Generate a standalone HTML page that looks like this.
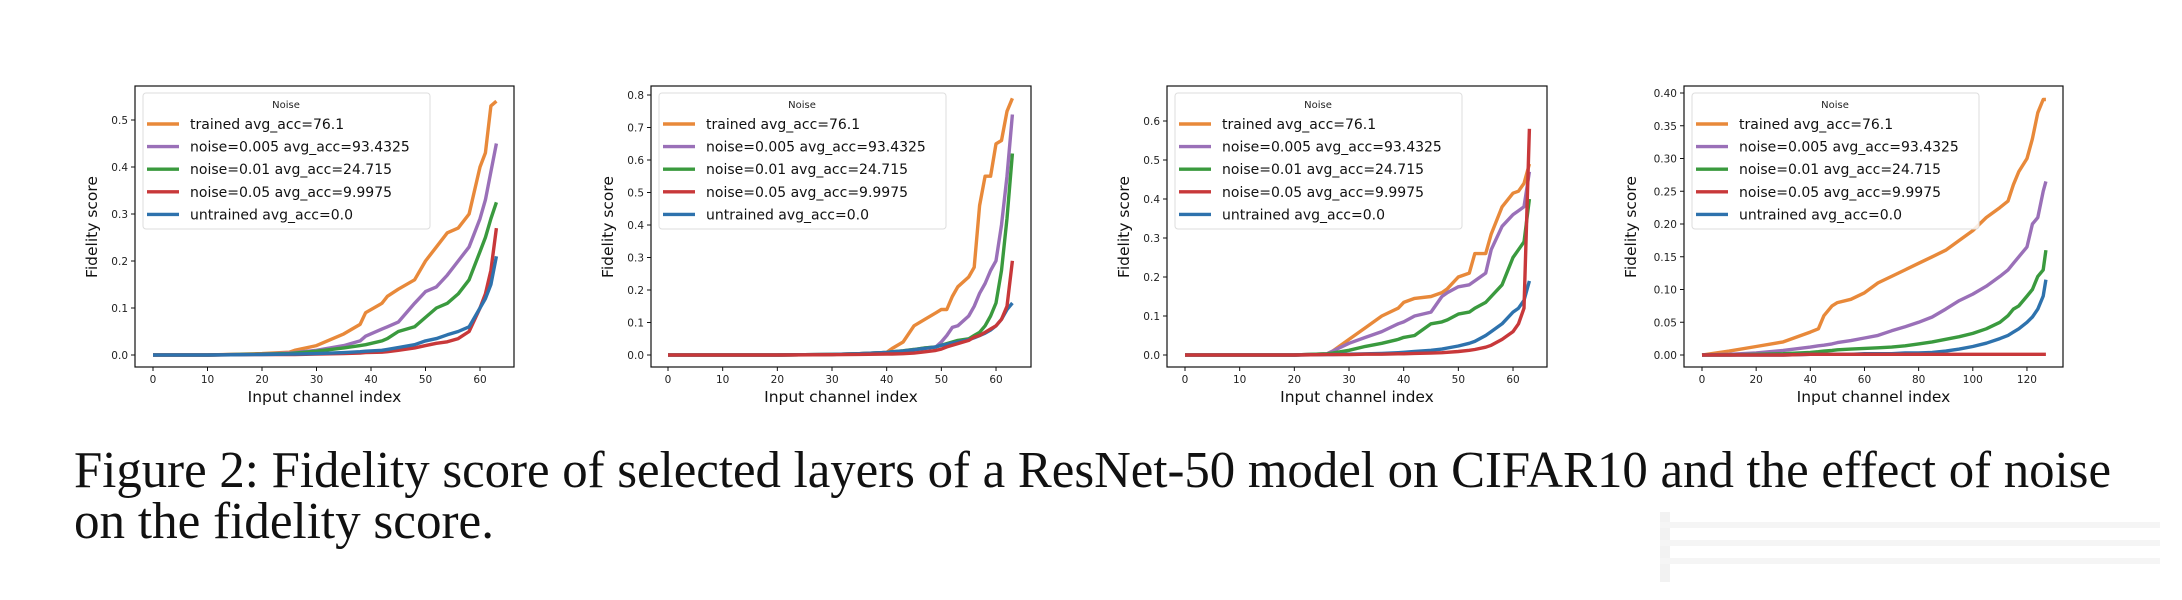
<!DOCTYPE html>
<html><head><meta charset="utf-8">
<style>
html,body{margin:0;padding:0;background:#fff;}
svg{display:block;}
text{font-family:"DejaVu Sans","Liberation Sans",sans-serif;}
</style></head>
<body>
<svg id="fig" width="2182" height="600" viewBox="0 0 2182 600" xmlns="http://www.w3.org/2000/svg">
<text x="74" y="487" style="font-family:'Liberation Serif',serif" font-size="52" fill="#111" textLength="2037" lengthAdjust="spacingAndGlyphs">Figure 2: Fidelity score of selected layers of a ResNet-50 model on CIFAR10 and the effect of noise</text>
<text x="74" y="538" style="font-family:'Liberation Serif',serif" font-size="52" fill="#111" textLength="420" lengthAdjust="spacingAndGlyphs">on the fidelity score.</text>
<g opacity="0.18">
<rect x="1660" y="512" width="10" height="70" fill="#bbb"/>
<rect x="1660" y="522" width="500" height="6" fill="#ccc"/>
<rect x="1660" y="540" width="500" height="6" fill="#ccc"/>
<rect x="1660" y="558" width="500" height="6" fill="#ccc"/>
</g>
</svg>
<script>
// Panel 1 data
const p1Channels=[0,10,20,25,26,30,35,38,39,42,43,45,48,50,52,54,56,58,60,61,62,63];
const p1Trained=[0,0,0.003,0.006,0.01,0.02,0.045,0.065,0.09,0.11,0.125,0.14,0.16,0.2,0.23,0.26,0.27,0.3,0.4,0.43,0.53,0.54];
const p1Noise005=[0,0,0.002,0.004,0.005,0.01,0.02,0.03,0.04,0.055,0.06,0.07,0.11,0.135,0.145,0.17,0.2,0.23,0.29,0.33,0.39,0.45];
const p1Noise01=[0,0,0.002,0.003,0.004,0.008,0.015,0.02,0.022,0.03,0.035,0.05,0.06,0.08,0.1,0.11,0.13,0.16,0.22,0.25,0.29,0.325];
const p1Noise05=[0,0,0.001,0.001,0.001,0.002,0.003,0.004,0.005,0.006,0.007,0.01,0.015,0.02,0.025,0.028,0.035,0.05,0.1,0.13,0.18,0.27];
const p1Untrained=[0,0,0.001,0.002,0.002,0.003,0.005,0.007,0.008,0.01,0.012,0.016,0.022,0.03,0.035,0.043,0.05,0.06,0.1,0.12,0.15,0.21];
// Panel 2 data
const p2Channels=[0,10,20,30,35,40,41,43,45,47,49,50,51,52,53,55,56,57,58,59,60,61,62,63];
const p2Trained=[0,0,0,0.002,0.004,0.008,0.02,0.04,0.09,0.11,0.13,0.14,0.14,0.18,0.21,0.24,0.27,0.46,0.55,0.55,0.65,0.66,0.75,0.79];
const p2Noise005=[0,0,0,0.002,0.004,0.008,0.01,0.013,0.017,0.022,0.025,0.04,0.06,0.085,0.09,0.12,0.15,0.19,0.22,0.26,0.29,0.4,0.55,0.74];
const p2Noise01=[0,0,0,0.002,0.004,0.008,0.01,0.013,0.017,0.022,0.025,0.03,0.035,0.04,0.045,0.05,0.06,0.07,0.09,0.12,0.16,0.26,0.42,0.62];
const p2Noise05=[0,0,0,0.001,0.002,0.003,0.003,0.004,0.006,0.01,0.014,0.018,0.025,0.03,0.035,0.045,0.055,0.06,0.07,0.08,0.09,0.11,0.15,0.29];
const p2Untrained=[0,0,0,0.002,0.004,0.008,0.01,0.012,0.016,0.02,0.025,0.03,0.033,0.037,0.04,0.047,0.053,0.06,0.067,0.077,0.09,0.11,0.14,0.16];
// Panel 3 data
const p3Channels=[0,10,20,26,27,30,33,36,39,40,42,45,47,48,50,52,53,55,56,58,60,61,62,63];
const p3Trained=[0,0,0,0.003,0.01,0.04,0.07,0.1,0.12,0.135,0.145,0.15,0.16,0.17,0.2,0.21,0.26,0.26,0.31,0.38,0.415,0.42,0.44,0.49];
const p3Noise005=[0,0,0,0.003,0.01,0.03,0.045,0.06,0.08,0.085,0.1,0.11,0.15,0.16,0.175,0.18,0.19,0.21,0.27,0.33,0.36,0.37,0.38,0.47];
const p3Noise01=[0,0,0,0.003,0.005,0.012,0.022,0.03,0.04,0.045,0.05,0.08,0.085,0.09,0.105,0.11,0.12,0.135,0.15,0.18,0.25,0.27,0.29,0.4];
const p3Noise05=[0,0,0,0.001,0.001,0.001,0.002,0.002,0.003,0.003,0.004,0.005,0.006,0.007,0.009,0.012,0.014,0.02,0.025,0.04,0.06,0.08,0.12,0.58];
const p3Untrained=[0,0,0,0.001,0.001,0.002,0.003,0.004,0.006,0.007,0.009,0.012,0.015,0.018,0.023,0.03,0.035,0.05,0.06,0.08,0.11,0.12,0.14,0.19];
// Panel 4 data
const p4Channels=[0,10,20,30,40,43,45,48,50,55,60,65,70,75,80,85,90,95,100,105,110,113,115,117,120,122,124,126,127];
const p4Trained=[0,0.006,0.013,0.02,0.035,0.04,0.06,0.075,0.08,0.085,0.095,0.11,0.12,0.13,0.14,0.15,0.16,0.175,0.19,0.21,0.225,0.235,0.26,0.28,0.3,0.33,0.37,0.39,0.39];
const p4Noise005=[0,0.001,0.003,0.007,0.012,0.014,0.015,0.017,0.019,0.022,0.026,0.03,0.037,0.043,0.05,0.058,0.07,0.083,0.093,0.105,0.12,0.13,0.14,0.15,0.165,0.2,0.21,0.25,0.265];
const p4Noise01=[0,0,0.001,0.002,0.004,0.005,0.006,0.007,0.008,0.009,0.01,0.011,0.012,0.014,0.017,0.02,0.024,0.028,0.033,0.04,0.05,0.06,0.07,0.075,0.09,0.1,0.12,0.13,0.16];
const p4Noise05=[0,0,0,0,0.001,0.001,0.001,0.001,0.001,0.001,0.001,0.001,0.001,0.001,0.001,0.001,0.001,0.001,0.001,0.001,0.001,0.001,0.001,0.001,0.001,0.001,0.001,0.001,0.001];
const p4Untrained=[0,0,0,0,0.001,0.001,0.001,0.001,0.001,0.001,0.002,0.002,0.002,0.003,0.003,0.004,0.006,0.009,0.013,0.018,0.025,0.03,0.035,0.04,0.05,0.058,0.07,0.09,0.115];

const seriesLabels=["trained avg_acc=76.1","noise=0.005 avg_acc=93.4325","noise=0.01 avg_acc=24.715","noise=0.05 avg_acc=9.9975","untrained avg_acc=0.0"];
const seriesColors=["#e8893a","#9a70b8","#3a9a3e","#c8383a","#2e72ad"];
const p1YTicks=[0,0.1,0.2,0.3,0.4,0.5];
const p2YTicks=[0,0.1,0.2,0.3,0.4,0.5,0.6,0.7,0.8];
const p3YTicks=[0,0.1,0.2,0.3,0.4,0.5,0.6];
const p4YTicks=[0,0.05,0.1,0.15,0.2,0.25,0.3,0.35,0.4];
const p1XTicks=[0,10,20,30,40,50,60];
const p4XTicks=[0,20,40,60,80,100,120];

const NS="http://www.w3.org/2000/svg";
const fig=document.getElementById('fig');
function mk(tag,attrs,parent){const e=document.createElementNS(NS,tag);for(const k in attrs)e.setAttribute(k,attrs[k]);parent.appendChild(e);return e;}

const panels=[
 {left:135,right:514,x0:153,xs:5.45,ys:470,yt:p1YTicks,xt:p1XTicks,dec:1,x:p1Channels,s:[p1Trained,p1Noise005,p1Noise01,p1Noise05,p1Untrained],order:[0,1,2,3,4]},
 {left:651,right:1031,x0:668,xs:5.467,ys:325,yt:p2YTicks,xt:p1XTicks,dec:1,x:p2Channels,s:[p2Trained,p2Noise005,p2Noise01,p2Noise05,p2Untrained],order:[0,1,2,4,3]},
 {left:1167,right:1547,x0:1185,xs:5.467,ys:390,yt:p3YTicks,xt:p1XTicks,dec:1,x:p3Channels,s:[p3Trained,p3Noise005,p3Noise01,p3Noise05,p3Untrained],order:[0,1,2,4,3]},
 {left:1684,right:2063,x0:1702,xs:2.708,ys:655,yt:p4YTicks,xt:p4XTicks,dec:2,x:p4Channels,s:[p4Trained,p4Noise005,p4Noise01,p4Noise05,p4Untrained],order:[0,1,2,4,3]}
];
const TOP=86,BOT=367,Y0=355;
panels.forEach((p,pi)=>{
  const g=mk('g',{},fig);
  
  
  const X=v=>p.x0+v*p.xs, Y=v=>Y0-v*p.ys;
  p.order.forEach(si=>{
    const d=p.x.map((c,i)=>(i?'L':'M')+X(c).toFixed(1)+','+Y(p.s[si][i]).toFixed(1)).join(' ');
    const path=mk('path',{d:d,fill:'none',stroke:seriesColors[si],'stroke-width':3.4,'stroke-linejoin':'round'},g);
    
    
  });
  const fr=mk('rect',{x:p.left,y:TOP,width:p.right-p.left,height:BOT-TOP,fill:'none',stroke:'#111','stroke-width':1.2},g);
  
  
  p.yt.forEach(v=>{
    mk('line',{x1:p.left-4,x2:p.left,y1:Y(v),y2:Y(v),stroke:'#111','stroke-width':1},g);
    const t=mk('text',{x:p.left-7,y:Y(v)+4,'text-anchor':'end','font-size':10.5,fill:'#222'},g);
    t.textContent=v.toFixed(p.dec);
    
    
  });
  p.xt.forEach(v=>{
    mk('line',{x1:X(v),x2:X(v),y1:BOT,y2:BOT+4,stroke:'#111','stroke-width':1},g);
    const t=mk('text',{x:X(v),y:BOT+16,'text-anchor':'middle','font-size':10.5,fill:'#222'},g);
    t.textContent=v;
    
    
  });
  const xl=mk('text',{x:(p.left+p.right)/2,y:402,'text-anchor':'middle','font-size':15.5,fill:'#111'},g);
  xl.textContent='Input channel index';
  
  
  const ylx=p.left-(pi===3?42:32)-6;
  const yl=mk('text',{x:0,y:0,'text-anchor':'middle','font-size':15.5,fill:'#111',transform:`translate(${ylx},227) rotate(-90)`},g);
  yl.textContent='Fidelity score';
  
  
  const lg=mk('g',{},g);
  
  
  const lx=p.left+8;
  mk('rect',{x:lx,y:93,width:287,height:136,rx:3,fill:'#fff','fill-opacity':0.85,stroke:'#ddd','stroke-width':1},lg);
  const lt=mk('text',{x:lx+143,y:108,'text-anchor':'middle','font-size':10,fill:'#222'},lg);
  lt.textContent='Noise';
  
  
  seriesLabels.forEach((lab,i)=>{
    const yy=124+i*22.6;
    const e=mk('g',{},lg);
    
    
    mk('line',{x1:lx+4,x2:lx+36,y1:yy,y2:yy,stroke:seriesColors[i],'stroke-width':3.4},e);
    const t=mk('text',{x:lx+47,y:yy+5,'font-size':14,fill:'#111'},e);
    t.textContent=lab;
  });
});
</script>
</body></html>
